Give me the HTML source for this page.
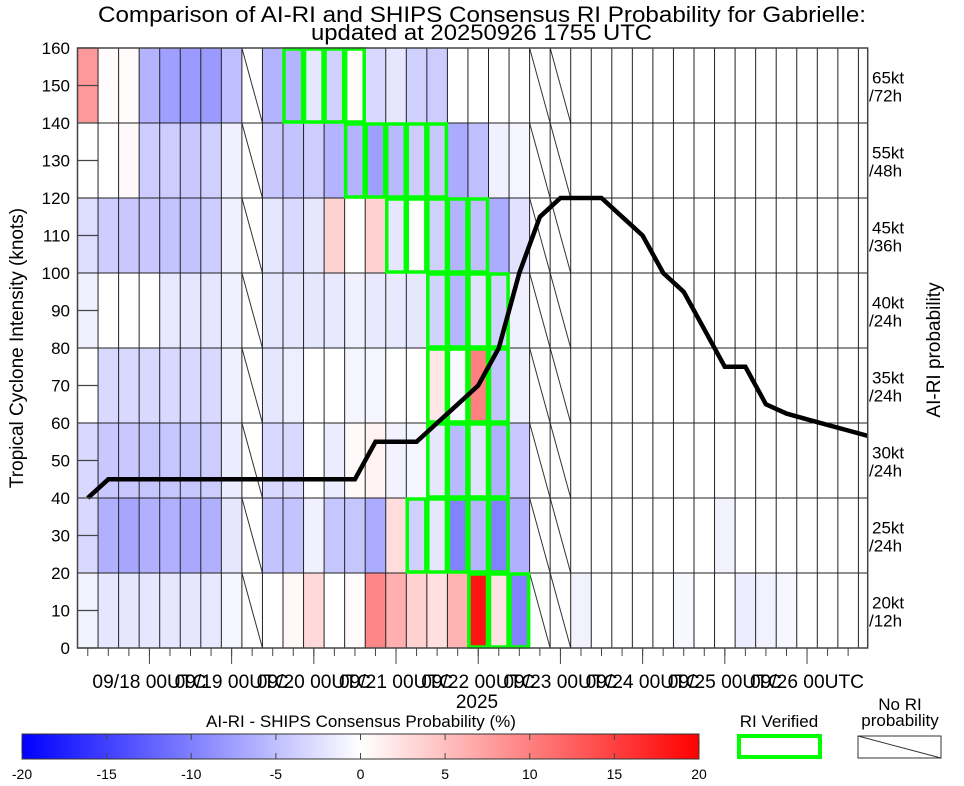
<!DOCTYPE html>
<html><head><meta charset="utf-8"><style>
html,body{margin:0;padding:0;background:#fff;}
svg{display:block;font-family:"Liberation Sans",sans-serif;}
</style></head><body>
<svg id="chart" width="964" height="786" viewBox="0 0 964 786" xmlns="http://www.w3.org/2000/svg">
<defs>
<linearGradient id="cbar" x1="0" x2="1" y1="0" y2="0">
<stop offset="0" stop-color="#0000ff"/><stop offset="0.5" stop-color="#ffffff"/><stop offset="1" stop-color="#ff0000"/>
</linearGradient>
<clipPath id="plotclip"><rect x="77.5" y="48" width="790.2" height="600"/></clipPath>
</defs>
<text x="98" y="22" font-size="22" textLength="768" lengthAdjust="spacingAndGlyphs">Comparison of AI-RI and SHIPS Consensus RI Probability for Gabrielle:</text>
<text x="311" y="40" font-size="22" textLength="341" lengthAdjust="spacingAndGlyphs">updated at 20250926 1755 UTC</text>
<g id="cells" clip-path="url(#plotclip)"></g>
<g id="grid"></g>
<g id="boxes"></g>
<g id="line" clip-path="url(#plotclip)"></g>
<g id="axes"></g>
<text transform="translate(23,348) rotate(-90)" text-anchor="middle" font-size="19">Tropical Cyclone Intensity (knots)</text>
<text transform="translate(940,350) rotate(-90)" text-anchor="middle" font-size="19">AI-RI probability</text>
<text x="477" y="708" text-anchor="middle" font-size="19">2025</text>
<text x="361" y="727" text-anchor="middle" font-size="17">AI-RI - SHIPS Consensus Probability (%)</text>
<rect x="22" y="734" width="677" height="25" fill="url(#cbar)" stroke="#333" stroke-width="1"/>
<g id="cbticks"></g>
<text x="779" y="727" text-anchor="middle" font-size="17">RI Verified</text>
<rect x="739" y="736" width="81" height="21" fill="none" stroke="#00ff00" stroke-width="4"/>
<text x="900" y="710" text-anchor="middle" font-size="17">No RI</text>
<text x="900" y="726" text-anchor="middle" font-size="17">probability</text>
<g><rect x="858" y="736" width="83" height="22" fill="#fff" stroke="#333" stroke-width="1"/><line x1="858" y1="736" x2="941" y2="758" stroke="#333" stroke-width="1"/></g>
</svg>
<script>
// data
const rowLabelsTop = ["20kt","25kt","30kt","35kt","40kt","45kt","55kt","65kt"];
const rowLabelsBot = ["/12h","/24h","/24h","/24h","/24h","/36h","/48h","/72h"];
const yTicks = [0,10,20,30,40,50,60,70,80,90,100,110,120,130,140,150,160];
const xTickLabels = ["09/18 00UTC","09/19 00UTC","09/20 00UTC","09/21 00UTC","09/22 00UTC","09/23 00UTC","09/24 00UTC","09/25 00UTC","09/26 00UTC"];
const cbTicks = [-20,-15,-10,-5,0,5,10,15,20];
const hatchCols = [8,22,23];
const intensity = [40,45,45,45,45,45,45,45,45,45,45,45,45,45,55,55,55,60,65,70,80,100,115,120,120,120,115,110,100,95,85,75,75,65,62.5,61,59.5,58,56.5];
// probability difference per row (row 0 = 0-20 kt), columns 0..21 (rest near zero)
const row0 = [-1,-2,-2,-2,-2,-2,-1.8,-0.8,0,0,0.7,3,0,0.3,9.5,6.3,3.5,2.5,6,18.5,2.3,-9.8,0,0,-1,0,0,0,0,-0.6,0,0,-1.4,-1,-0.6,0,0,0,0];
const row1 = [-3,-6.2,-7,-6.2,-6.2,-6.8,-6.2,-2,0,-4.7,-4.7,-1.2,-4.5,-4.5,-6.6,2.7,-3.7,-2,-9.8,-5.8,-9.8,-6.2,0,0,0,0,0,0,0,0,0,-1,0,0,0,0,0,0,0];
const row2 = [-3,-4.3,-4.3,-4.5,-4.5,-4.5,-4,-1.5,0,-3,-3,0,-1.5,0.5,1,-1,-0.8,-2,-5.5,-2.3,-6.2,-4.3,0,0,0,0,0,0,0,0,0,0,0,0,0,0,0,0,0];
const row3 = [0,-3,-3,-3,-3,-3,-3,-1.2,0,-2,-1.3,0,0,-0.8,-0.8,0,0,2,-0.5,10,-4.7,-1.2,0,0,0,0,0,0,0,0,0,0,0,0,0,0,0,0,0];
const row4 = [-1.2,0,0,0,-1.8,-2,-2,-1.2,0,-2,-2,-2,-1.8,-1.2,-1.8,-1.8,-2,-3.5,-5.8,-2.3,-3.5,-1.2,0,0,0,0,0,0,0,0,0,0,0,0,0,0,0,0,0];
const row5 = [-2.7,-4,-4.3,-4.3,-4.7,-4.7,-4,-1.2,0,-2,-3,-2,3.5,0,3.5,-2,0,-3.7,-6,-5,-6.6,-2.3,0,0,0,0,0,0,0,0,0,0,0,0,0,0,0,0,0];
const row6 = [0,0,0.5,-4,-4,-4.3,-3.7,-1.2,0,-4.3,-4.7,-4,-6,-6,-7.5,-5.5,-4,-4.3,-6.6,-5,-1.2,-0.8,0,0,0,0,0,0,0,0,0,0,0,0,0,0,0,0,0];
const row7 = [8,0.3,0.3,-6,-7.5,-8,-8,-5,0,-6,-6,-2,-3.7,0.3,-3,-2,-3.7,-4,0,0,0,0,0,0,0,0,0,0,0,0,0,0,0,0,0,0,0,0,0];
const rows = [row0,row1,row2,row3,row4,row5,row6,row7];
// verified RI column ranges per row [first,last]
const verifiedStart = [19,16,17,17,17,15,13,10];
const verifiedEnd   = [21,20,20,20,20,19,17,13];
</script>
<script>
const NS="http://www.w3.org/2000/svg";
const X0=77.5, CW=20.55, YB=648, YT=48, PR=867.7;
const xCol=c=>X0+c*CW;
const xCenter=c=>X0+(c+0.5)*CW;
const yVal=v=>YB-(v-0)*(YB-YT)/160;
const rowH=(YB-YT)/8;
function mk(tag,attrs,parent){const e=document.createElementNS(NS,tag);for(const k in attrs)e.setAttribute(k,attrs[k]);parent.appendChild(e);return e;}
function color(v){v=Math.max(-20,Math.min(20,v));let t=Math.round(255*(1-Math.abs(v)/20));return v<0?`rgb(${t},${t},255)`:`rgb(255,${t},${t})`;}
const cells=document.getElementById('cells'),grid=document.getElementById('grid'),boxes=document.getElementById('boxes'),axes=document.getElementById('axes');
const nCols=intensity.length;
for(let r=0;r<8;r++){
  const y=yVal((r+1)*20);
  for(let c=0;c<nCols;c++){
    const hatched=hatchCols.includes(c);
    const el=mk('rect',{x:xCol(c),y:y,width:CW,height:rowH,fill:hatched?'#fff':color(rows[r][c]||0)},cells);
    
    
    if(hatched){
      const l=mk('line',{x1:xCol(c),y1:y,x2:xCol(c+1),y2:y+rowH,stroke:'#333','stroke-width':1},cells);
      
      
    }
  }
}
// grid
for(let c=1;c<nCols;c++){const x=xCol(c);if(x<PR)mk('line',{x1:x,y1:YT,x2:x,y2:YB,stroke:'#222','stroke-width':1},grid);}
for(let r=1;r<8;r++){const y=yVal(r*20);mk('line',{x1:X0,y1:y,x2:PR,y2:y,stroke:'#222','stroke-width':1},grid);}
// verified boxes
for(let r=0;r<8;r++){
  const y=yVal((r+1)*20);
  for(let c=verifiedStart[r];c<=verifiedEnd[r];c++){
    const b=mk('rect',{x:xCol(c)+1,y:y+1,width:CW-2,height:rowH-2,fill:'none',stroke:'#00ff00','stroke-width':3.5},boxes);
    
    
  }
}
// intensity line
const pts=intensity.map((v,i)=>xCenter(i).toFixed(1)+','+yVal(v).toFixed(1)).join(' ');
const pl=mk('polyline',{points:pts,fill:'none',stroke:'#000','stroke-width':4.5,'stroke-linejoin':'miter'},document.getElementById('line'));


// frame
mk('rect',{x:X0,y:YT,width:PR-X0,height:YB-YT,fill:'none',stroke:'#444','stroke-width':1.5},axes);
// y ticks
yTicks.forEach(v=>{
  const y=yVal(v);
  mk('line',{x1:X0,y1:y,x2:X0+20,y2:y,stroke:'#444','stroke-width':1.2},axes);
  const t=mk('text',{x:70,y:y+6,'text-anchor':'end','font-size':17},axes);t.textContent=v;
  
  
});
// x ticks
for(let c=0;c<nCols;c++){const x=xCenter(c);if(x<PR)mk('line',{x1:x,y1:YB,x2:x,y2:YB+8,stroke:'#444','stroke-width':1},axes);}
xTickLabels.forEach((s,i)=>{
  const x=xCenter(3+4*i);
  mk('line',{x1:x,y1:YB,x2:x,y2:YB+16,stroke:'#444','stroke-width':1},axes);
  const t=mk('text',{x:x,y:688,'text-anchor':'middle','font-size':19,textLength:114,lengthAdjust:'spacingAndGlyphs'},axes);t.textContent=s;
  
  
});
// right row labels
for(let r=0;r<8;r++){
  const yc=yVal(r*20+10);
  const a=mk('text',{x:872,y:yc-2,'font-size':17},axes);a.textContent=rowLabelsTop[r];
  
  
  const b=mk('text',{x:869,y:yc+16,'font-size':17},axes);b.textContent=rowLabelsBot[r];
  
  
}
// colorbar ticks
const cbg=document.getElementById('cbticks');
cbTicks.forEach(v=>{
  const x=22+(v+20)/40*677;
  mk('line',{x1:x,y1:734,x2:x,y2:740,stroke:'#444','stroke-width':1},cbg);
  mk('line',{x1:x,y1:753,x2:x,y2:759,stroke:'#444','stroke-width':1},cbg);
  const t=mk('text',{x:x,y:779,'text-anchor':'middle','font-size':14},cbg);t.textContent=v;
  
  
});
</script>
</body></html>
